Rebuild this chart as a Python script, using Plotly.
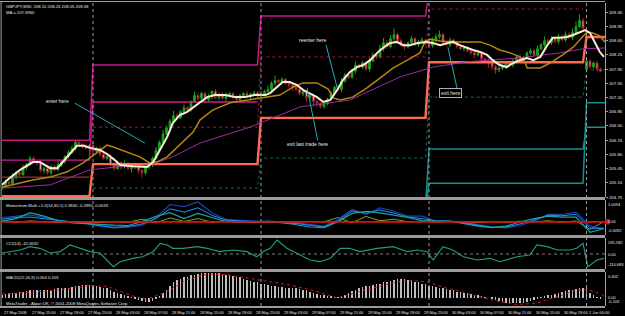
import plotly.graph_objects as go

# ---------------- DATA ----------------
# M30 bars, x = chart hours from 27 May 11:00 (bar every 0.5 h)
close = [
    205.00, 205.12, 205.08, 205.25, 205.35, 205.30, 205.48, 205.55, 205.70, 205.62,
    205.58, 205.40, 205.45, 205.35, 205.50, 205.42, 205.55,
    205.62, 205.75, 205.85, 205.95, 206.10, 206.05, 206.00, 205.95, 206.02,
    205.88, 205.95, 205.80, 205.70, 205.75, 205.55, 205.45, 205.60,
    205.50, 205.58, 205.45, 205.52, 205.48, 205.40, 205.35, 205.48, 205.55,
    205.70, 205.90, 206.10, 206.30, 206.45, 206.62, 206.75, 206.70, 206.85, 206.95, 206.90, 207.10, 207.25, 207.18,
    207.30, 207.15, 207.22, 207.35, 207.20, 207.28, 207.18, 207.25, 207.30, 207.20, 207.15, 207.25, 207.30, 207.22, 207.28, 207.32, 207.24, 207.30, 207.35,
    207.40, 207.55, 207.62, 207.58, 207.65, 207.55, 207.50,
    207.45, 207.40, 207.30, 207.35, 207.20, 207.25, 207.10, 207.05, 206.98, 207.05, 207.15,
    207.30, 207.45, 207.40, 207.60, 207.75, 207.70, 207.85, 208.00, 207.95, 208.05, 207.90, 208.10, 208.25, 208.20, 208.40, 208.55, 208.45, 208.65, 208.75, 208.60,
    208.50, 208.45, 208.55, 208.65, 208.50, 208.58, 208.62, 208.55, 208.48, 208.60, 208.70, 208.75, 208.55, 208.50, 208.62, 208.55, 208.45,
    208.40, 208.42, 208.35, 208.30, 208.25, 208.28, 208.15, 208.10, 208.05, 207.95, 207.88, 207.92, 207.95,
    208.05, 208.00, 208.10, 208.20, 208.12, 208.18, 208.30, 208.35, 208.25, 208.40,
    208.50, 208.60, 208.55, 208.65, 208.58, 208.70, 208.62, 208.75, 208.68, 208.80, 208.95, 209.10, 208.90,
    208.10, 207.95, 208.05, 207.90, 207.85,
]
first_open = 204.95
gap_open = {167: 207.90}   # Monday gap
wick_up = [
    4,6,3,8,5,3,7,4,6,5, 3,8,4,6,3,5,9,4,3,6, 7,4,5,3,6,4,8,3,5,4, 3,6,4,5,3,7,4,3,5,6,
    4,3,6,5,8,4,10,6,5,12, 6,4,8,5,3,9,6,4,5,7, 3,6,4,5,8,3,4,6,5,3, 7,4,5,3,6,4,9,5,12,4,
    5,3,6,4,5,3,7,4,5,3, 6,4,3,5,7,4,6,8,5,4, 6,9,4,5,3,7,6,5,10,12, 6,8,15,5,4,6,3,7,5,4,
    6,3,5,8,7,10,4,5,6,3, 4,6,3,5,4,7,3,5,4,6, 3,5,4,6,5,3,7,4,6,5, 4,6,5,8,4,10,5,6,4,7,
    5,8,6,10,12,15,6,8,5,4, 6,4,
]
wick_dn = [
    5,3,6,4,7,5,3,6,4,5, 6,4,7,5,8,4,3,6,5,4, 3,5,4,6,3,7,5,4,6,3, 5,4,6,3,8,5,4,10,6,8,
    12,5,4,6,3,5,4,3,6,4, 5,3,6,4,5,3,4,6,5,4, 6,4,5,3,8,5,4,3,6,5, 4,6,3,5,4,3,5,4,6,3,
    5,4,6,8,5,4,7,10,6,12, 8,5,6,4,3,5,4,6,3,5, 4,6,3,5,4,6,3,5,4,6, 5,4,6,3,5,8,4,6,3,5,
    4,6,3,5,4,6,5,3,6,4, 5,3,6,4,5,8,4,6,5,12, 8,10,6,4,5,3,6,4,5,3, 4,6,3,5,4,6,3,5,4,6,
    3,5,4,6,5,4,6,8,5,4, 5,3,
]

# moving averages (hour, price)
ma_fast_h = [0,1.1,2.6,4.4,5.4,6.9,7.9,9.3,10.7,11.7,12.6,14,15,15.9,16.9,18.7,20.7,21.6,22.6,23.6,
             24.4,25.4,26.4,27.9,29.3,30.4,31.9,33.3,34.7,36.1,37.6,38.3,39.3,40.1,41.1,42.1,43,44,45,45.9,
             46.9,47.9,48.7,49.7,50.7,51.6,52.6,53.6,54.4,55.4,56.4,57.3,58.3,59.3,60.7,61.6,62.6,63.6,64.4,65.4,
             66.4,67.3,68.3,69.3,70.1,71.1,72.1,73,74,75,75.9,76.9,77.9,78.7,79.7,80.7,81.6,82.6,83.3,84,
             84.7,85.4,86]
ma_fast = [205.05,205.22,205.42,205.61,205.61,205.46,205.46,205.74,206.01,206.01,205.96,205.91,205.81,205.69,205.54,205.51,205.49,205.61,205.91,206.23,
           206.57,206.77,206.84,207.02,207.21,207.26,207.26,207.21,207.21,207.26,207.26,207.31,207.46,207.58,207.58,207.51,207.39,207.31,207.21,207.09,
           207.14,207.39,207.63,207.83,207.95,208.00,208.12,208.30,208.42,208.54,208.57,208.49,208.49,208.54,208.57,208.54,208.49,208.54,208.57,208.49,
           208.42,208.37,208.32,208.25,208.12,208.00,207.95,208.05,208.12,208.17,208.12,208.20,208.49,208.67,208.67,208.69,208.74,208.81,208.86,208.79,
           208.54,208.32,208.20]
ma_mid_h = [0,2.6,4.4,6.9,9.3,11.6,13,14,15,15.9,17.9,19.7,21.1,22.1,23.6,25.4,27.3,28.3,30.1,32.6,
            35,37.3,39.7,41.6,43,45,46.6,47.3,48.3,50.1,52.1,54,55.9,57.9,59.7,60.4,61.1,62.6,64.4,66.4,
            68.3,69.7,71.1,72.6,74,74.7,75,76.9,78.3,80.1,81.6,82.9,83.6,84.4,85.4,86.1]
ma_mid = [204.99,205.09,205.17,205.24,205.37,205.59,205.78,205.91,206.03,205.98,205.86,205.74,205.59,205.61,205.74,206.03,206.35,206.65,206.89,207.07,
          207.14,207.19,207.26,207.46,207.56,207.56,207.41,207.19,207.14,207.21,207.43,207.68,207.93,208.12,208.30,208.57,208.64,208.59,208.57,208.57,
          208.57,208.49,208.37,208.30,208.20,208.08,207.93,207.93,208.05,208.25,208.44,208.69,208.81,208.79,208.72,208.57]
ma_slow_h = [0,6.9,12.6,16.4,21.1,24.4,28.3,35.4,42.6,49.7,56.9,61.6,66.4,73.6,79.7,83,86.1]
ma_slow = [204.97,205.05,205.42,205.49,205.54,205.74,206.08,206.47,206.97,207.14,207.71,207.95,208.08,208.17,208.30,208.40,208.42]

# daily level lines (days: 27 May, 28 May, 29 May, 30 May, 2 Jun)
day_start = [-0.5, 13.0, 37.0, 61.0, 83.5]
day_end = [12.5, 36.5, 60.5, 83.0, 86.5]
lvl_red = [204.77, 205.56, 206.70, 208.07, 208.69]
lvl_mag1 = [206.15, 208.00, 209.21, 209.80, None]
lvl_mag2 = [205.66, 207.09, None, None, None]
lvl_crim = [None, 206.47, 208.20, 209.38, None]
lvl_green = [None, 204.97, 205.71, 207.21, 207.88]
lvl_orng = [205.24, None, None, None, None]
lvl_teal1 = [None, None, 204.50, 205.93, 206.47]
lvl_teal2 = [None, None, 204.50, 205.09, 207.07]
separators_h = [13.0, 37.0, 61.0, 83.5]

# Momentum-Multi (every 2 hours)
mom_h = list(range(0, 87, 2))
mom_blue = [0.19,0.26,0.32,0.20,0.07,0.00,-0.05,-0.20,-0.28,-0.23,
            -0.17,0.19,0.80,0.70,0.92,0.42,0.11,0.07,0.03,0.03,
            -0.05,-0.05,-0.13,-0.20,0.11,0.57,0.34,0.65,0.49,0.26,
            0.26,0.03,0.03,0.00,-0.13,-0.23,-0.28,-0.17,0.03,0.34,
            0.34,0.45,-0.20,-0.33]
mom_teal = [0.03,0.15,0.42,0.26,0.06,-0.05,-0.08,-0.13,-0.15,-0.17,
            0.01,0.25,0.42,0.15,0.39,0.20,0.01,-0.03,-0.01,0.01,
            -0.03,-0.13,-0.24,-0.27,0.01,0.39,0.48,0.41,0.32,0.20,
            0.06,0.03,0.03,-0.08,-0.20,-0.27,-0.20,-0.01,0.15,0.26,
            0.22,0.22,-0.48,-0.31]
mom_cyan = [0.12,0.20,0.22,0.15,0.05,-0.02,-0.08,-0.18,-0.25,-0.22,
            -0.10,0.15,0.60,0.45,0.65,0.30,0.08,0.04,0.02,0.00,
            -0.04,-0.08,-0.17,-0.24,0.05,0.50,0.40,0.55,0.40,0.22,
            0.15,0.04,0.02,-0.04,-0.16,-0.25,-0.24,-0.10,0.08,0.30,
            0.28,0.35,-0.30,-0.30]
mom_olive = [0.02,-0.02,0.04,0.00,-0.03,0.02,0.00,-0.04,0.02,-0.02,
             0.12,-0.05,0.18,0.02,0.15,-0.02,0.03,0.00,-0.02,0.03,
             0.00,-0.02,0.02,0.00,0.20,-0.04,0.25,0.05,0.12,0.00,
             0.03,-0.02,0.02,0.00,-0.03,0.02,-0.02,0.03,0.00,0.05,
             -0.02,0.04,-0.35,0.02]

# CCI(14)
cci_h = [0,1.1,2.6,4,5.4,6.9,8.3,9.7,11.1,12.6,14,15.4,15.9,16.9,18.7,20.1,21.6,22.6,23.6,24.4,
         25.9,27.9,29.3,31.1,33,35,36.4,37.3,38.3,39.3,40.7,42.6,44,45.4,46.9,48.3,49.7,51.1,53.6,55.9,
         57.9,59.3,60.7,61.6,63,64.4,65.9,67.9,69.7,71.1,73.6,75.4,76.4,77.9,79.3,81.1,82.1,83,83.7,85,86]
cci = [15,34,59,108,84,15,34,132,84,34,15,-137,-187,-113,-63,-40,34,157,132,84,
       84,108,84,34,59,34,-40,34,84,206,84,-15,-88,-113,-63,84,84,34,84,108,
       34,59,34,-88,108,59,-40,-88,-63,-113,-40,-15,132,108,59,59,84,157,-187,-88,-63]

# MACD(12,26,9) histogram per bar + signal
macd_hist = [
    0.05,0.06,0.07,0.07,0.08,0.09,0.10,0.11,0.12,0.12, 0.12,0.13,0.13,0.13,0.13,0.14,0.15,0.15,0.16,0.16,
    0.17,0.18,0.19,0.20,0.20,0.20,0.19,0.18,0.17,0.16, 0.15,0.13,0.10,0.08,0.06,0.04,0.03,0.01,-0.01,-0.03,
    -0.05,-0.06,-0.06,-0.05,-0.02,0.03,0.07,0.12,0.18,0.25, 0.28,0.30,0.32,0.33,0.35,0.36,0.37,0.38,0.38,0.39,
    0.39,0.39,0.38,0.37,0.36,0.35,0.34,0.33,0.32,0.30, 0.28,0.26,0.25,0.24,0.22,0.21,0.20,0.19,0.18,0.17,
    0.17,0.16,0.16,0.16,0.15,0.14,0.13,0.12,0.10,0.08, 0.06,0.05,0.04,0.03,0.02,0.01,0.01,0.02,0.04,0.08,
    0.11,0.13,0.15,0.17,0.18,0.19,0.20,0.21,0.22,0.24, 0.25,0.26,0.28,0.29,0.30,0.29,0.28,0.27,0.25,0.24,
    0.22,0.21,0.19,0.18,0.17,0.16,0.15,0.14,0.13,0.12, 0.10,0.09,0.08,0.07,0.06,0.05,0.04,0.02,0.01,0.00,
    -0.01,-0.03,-0.05,-0.06,-0.07,-0.07,-0.08,-0.08,-0.08,-0.07, -0.06,-0.05,-0.03,-0.01,0.01,0.02,0.04,0.05,0.06,0.07,
    0.09,0.11,0.12,0.13,0.14,0.15,0.16,0.15,0.08,0.04, 0.01,-0.02,
]
sig_h = [0,4.4,9.3,12.6,15,16.9,18.7,20.7,23.6,26.4,29.3,32.1,35.4,37.9,40.7,44,47.9,51.1,53.6,56.4,
         58.3,60.7,63,65.4,67.9,70.7,73.6,76.4,79.3,82.1,83.6,85.4,86]
sig = [0.06,0.09,0.14,0.19,0.18,0.10,0.03,-0.02,0.10,0.28,0.37,0.36,0.30,0.26,0.21,0.13,0.00,0.10,0.17,0.25,
       0.27,0.25,0.17,0.10,0.02,-0.05,-0.10,-0.08,0.02,0.12,0.13,0.07,0.03]

price_ticks = ["204.75","205.10","205.45","205.80","206.15","206.50","206.85","207.20",
               "207.55","207.90","208.25","208.60","208.95","209.30"]
time_labels = ["27 May 2008","27 May 15:00","27 May 19:00","27 May 23:00","28 May 03:00","28 May 07:00",
               "28 May 11:00","28 May 15:00","28 May 19:00","28 May 23:00","29 May 03:00","29 May 07:00",
               "29 May 11:00","29 May 15:00","29 May 19:00","29 May 23:00","30 May 03:00","30 May 07:00",
               "30 May 11:00","30 May 15:00","30 May 19:00","2 Jun 00:00"]
time_label_h = [0,4,8,12,16,20,24,28,32,36,40,44,48,52,56,60,64,68,72,76,80,83.5]

# ---------------- BUILD ----------------
bar_h = [i * 0.5 for i in range(len(close))]
opens = []
for i in range(len(close)):
    o = first_open if i == 0 else close[i - 1]
    opens.append(gap_open.get(i, o))
highs = [max(o, c) + u / 100 for o, c, u in zip(opens, close, wick_up)]
lows = [min(o, c) - d / 100 for o, c, d in zip(opens, close, wick_dn)]


def step_series(vals):
    xs, ys = [], []
    for s, e, v in zip(day_start, day_end, vals):
        if v is None:
            if xs and xs[-1] is not None:
                xs.append(None); ys.append(None)
            continue
        xs += [s, e]; ys += [v, v]
    return xs, ys


FONT = "Liberation Sans, Arial, sans-serif"
fig = go.Figure()


def add_level(vals, color, width, dash="solid"):
    xs, ys = step_series(vals)
    fig.add_trace(go.Scatter(x=xs, y=ys, mode="lines", line=dict(color=color, width=width, dash=dash),
                             hoverinfo="skip", showlegend=False, yaxis="y", connectgaps=False))


add_level(lvl_orng, "#B8443C", 1)
add_level(lvl_green, "#10704A", 1, "dot")
add_level(lvl_crim, "#B0103C", 1, "dot")
add_level(lvl_teal1, "#14918F", 1.5)
add_level(lvl_teal2, "#14918F", 1.5)
add_level(lvl_mag2, "#D01C8C", 1.3)
add_level(lvl_mag1, "#C8158A", 1.5)
add_level(lvl_red, "#FF6A50", 2.4)

fig.add_trace(go.Scatter(x=ma_slow_h, y=ma_slow, mode="lines", line=dict(color="#9A2FA0", width=1),
                         hoverinfo="skip", showlegend=False, yaxis="y"))
fig.add_trace(go.Scatter(x=ma_mid_h, y=ma_mid, mode="lines", line=dict(color="#B8860B", width=1.5),
                         hoverinfo="skip", showlegend=False, yaxis="y"))
fig.add_trace(go.Candlestick(
    x=bar_h, open=opens, high=highs, low=lows, close=close,
    increasing=dict(line=dict(color="#1EA01E", width=1), fillcolor="#1EA01E"),
    decreasing=dict(line=dict(color="#A0202C", width=1), fillcolor="#F4C4C4"),
    whiskerwidth=0, hoverinfo="skip", showlegend=False, xaxis="x", yaxis="y"))
fig.add_trace(go.Scatter(x=ma_fast_h, y=ma_fast, mode="lines", line=dict(color="#FBEBD3", width=2),
                         hoverinfo="skip", showlegend=False, yaxis="y"))

# momentum
for vals, col, w in [(mom_olive, "#8A9A2A", 1), (mom_blue, "#2341B0", 1.2),
                     (mom_cyan, "#1E8FFF", 1), (mom_teal, "#1AA59A", 1.2)]:
    fig.add_trace(go.Scatter(x=mom_h, y=vals, mode="lines", line=dict(color=col, width=w),
                             hoverinfo="skip", showlegend=False, yaxis="y2"))
# cci
fig.add_trace(go.Scatter(x=cci_h, y=cci, mode="lines", line=dict(color="#1F9A86", width=1.2),
                         hoverinfo="skip", showlegend=False, yaxis="y3"))
# macd
fig.add_trace(go.Bar(x=bar_h, y=macd_hist, width=0.14, marker=dict(color="#BEBEBE", line=dict(width=0)),
                     hoverinfo="skip", showlegend=False, yaxis="y4"))
fig.add_trace(go.Scatter(x=sig_h, y=sig, mode="lines", line=dict(color="#D01818", width=1, dash="dot"),
                         hoverinfo="skip", showlegend=False, yaxis="y4"))

TOP, BOT = 3, 306
H = BOT - TOP


def pp(ypix):
    return (BOT - ypix) / H


shapes = []
# panel separators
for y0, y1 in [(197, 200), (235, 238), (269, 272), (306, 308)]:
    shapes.append(dict(type="rect", xref="paper", yref="paper", x0=-0.01, x1=1.0, y0=pp(y1), y1=pp(y0),
                       fillcolor="#9A9A9A", line=dict(width=0), layer="above"))
# border
shapes.append(dict(type="line", xref="paper", yref="paper", x0=-0.01, x1=1.0, y0=pp(1.5), y1=pp(1.5),
                   line=dict(color="#A0A0A0", width=1)))
shapes.append(dict(type="line", xref="paper", yref="paper", x0=-0.0015, x1=-0.0015, y0=pp(308), y1=pp(1.5),
                   line=dict(color="#A0A0A0", width=1)))
# day separators
for h in separators_h:
    shapes.append(dict(type="line", xref="x", yref="paper", x0=h, x1=h, y0=0, y1=1,
                       line=dict(color="#9A9AB0", width=1, dash="dot"), layer="above"))
# zero lines
shapes.append(dict(type="line", xref="paper", yref="y2", x0=0, x1=1, y0=0, y1=0,
                   line=dict(color="#E01010", width=1.6)))
shapes.append(dict(type="line", xref="paper", yref="y3", x0=0, x1=1, y0=0, y1=0,
                   line=dict(color="#808080", width=1, dash="dot")))
shapes.append(dict(type="rect", xref="paper", yref="y2", x0=1.0, x1=1.008, y0=-0.12, y1=0.12,
                   fillcolor="#E01010", line=dict(width=0)))
# annotation pointer lines
ARROW = "#22B0B8"
for x0, y0, x1, y1 in [(10.4, 207.06, 20.4, 206.08), (46.3, 208.49, 47.9, 207.43),
                       (45.1, 206.15, 43.6, 207.43), (65.0, 207.43, 63.7, 208.44)]:
    shapes.append(dict(type="line", xref="x", yref="y", x0=x0, y0=y0, x1=x1, y1=y1,
                       line=dict(color=ARROW, width=1)))

ann = []
TXT = "#E8E8E8"
SMALL = 4.2
for text, hx, py in [("enter here", 7.9, 207.11), ("reenter here", 44.3, 208.62),
                     ("exit last trade here", 43.7, 206.06)]:
    ann.append(dict(x=hx, y=py, xref="x", yref="y", text=text, showarrow=False,
                    font=dict(size=5.0, color=TXT, family=FONT)))
ann.append(dict(x=64.1, y=207.31, xref="x", yref="y", text="exit here", showarrow=False,
                font=dict(size=5.0, color=TXT, family=FONT), bordercolor="#B0B0B0", borderwidth=1,
                borderpad=1, bgcolor="#000000"))
# headers
ann.append(dict(x=0.003, y=pp(2.5), xref="paper", yref="paper", xanchor="left", yanchor="top",
                text="GBPJPY,M30  208.10 208.24 208.05 208.08", showarrow=False,
                font=dict(size=SMALL, color=TXT, family=FONT)))
ann.append(dict(x=0.003, y=pp(7.5), xref="paper", yref="paper", xanchor="left", yanchor="top",
                text="MA = 207.5960", showarrow=False, font=dict(size=SMALL, color=TXT, family=FONT)))
ann.append(dict(x=0.003, y=pp(200.5), xref="paper", yref="paper", xanchor="left", yanchor="top",
                text="Momentum-Multi +1.0(14,30,1) 0.3840 -0.2990 -0.0033", showarrow=False,
                font=dict(size=SMALL, color=TXT, family=FONT)))
ann.append(dict(x=0.003, y=pp(238.5), xref="paper", yref="paper", xanchor="left", yanchor="top",
                text="CCI(14) -42.0632", showarrow=False, font=dict(size=SMALL, color=TXT, family=FONT)))
ann.append(dict(x=0.003, y=pp(272.5), xref="paper", yref="paper", xanchor="left", yanchor="top",
                text="MACD(12,26,9) 0.054 0.103", showarrow=False, font=dict(size=SMALL, color=TXT, family=FONT)))
ann.append(dict(x=0.003, y=pp(298.5), xref="paper", yref="paper", xanchor="left", yanchor="top",
                text="MetaTrader - Alpari UK, © 2001-2008 MetaQuotes Software Corp.", showarrow=False,
                font=dict(size=SMALL, color=TXT, family=FONT)))
# sub-panel right labels
for yref, val, txt, anc in [("y2", 1.0094, "1.0094", "top"), ("y2", 0, "0.00", "middle"),
                            ("y2", -0.6092, "-0.6092", "bottom"),
                            ("y3", 235, "235.182", "top"), ("y3", 0, "0.00", "middle"),
                            ("y3", -220, "-110.683", "bottom"),
                            ("y4", 0.402, "0.402", "top"), ("y4", 0, "0.00", "middle"),
                            ("y4", -0.124, "-0.103", "bottom")]:
    ann.append(dict(x=1.0, y=val, xref="paper", yref=yref, xanchor="left", yanchor=anc, xshift=1,
                    text=txt, showarrow=False, font=dict(size=4.0, color=TXT, family=FONT)))
# time labels
for lab, hx in zip(time_labels, time_label_h):
    ann.append(dict(x=hx, y=pp(307.8), xref="x", yref="paper", xanchor="left", yanchor="top",
                    text=lab, showarrow=False, font=dict(size=3.9, color=TXT, family=FONT)))

axis_common = dict(side="right", showgrid=False, zeroline=False, anchor="x", showline=True,
                   linecolor="#A0A0A0", linewidth=1)
fig.update_layout(
    width=625, height=316,
    margin=dict(l=2, r=20, t=TOP, b=316 - BOT),
    paper_bgcolor="#000000", plot_bgcolor="#000000",
    showlegend=False, bargap=0,
    xaxis=dict(range=[0, 603 / 7], showticklabels=False, showgrid=False, zeroline=False,
               showline=False, rangeslider=dict(visible=False), fixedrange=True),
    yaxis=dict(domain=[pp(197), 1], range=[204.75, 204.75 + 194 / 40.6],
               tickvals=[float(t) for t in price_ticks], ticktext=price_ticks,
               ticks="outside", ticklen=2, tickcolor="#A0A0A0",
               tickfont=dict(size=4.4, color=TXT, family=FONT), **axis_common),
    yaxis2=dict(domain=[pp(235), pp(200)], range=[-0.6092, 1.0094], showticklabels=False, **axis_common),
    yaxis3=dict(domain=[pp(269), pp(238)], range=[-220, 235], showticklabels=False, **axis_common),
    yaxis4=dict(domain=[0, pp(272)], range=[-0.124, 0.402], showticklabels=False, **axis_common),
    shapes=shapes, annotations=ann,
)
fig.write_html("out.html")
